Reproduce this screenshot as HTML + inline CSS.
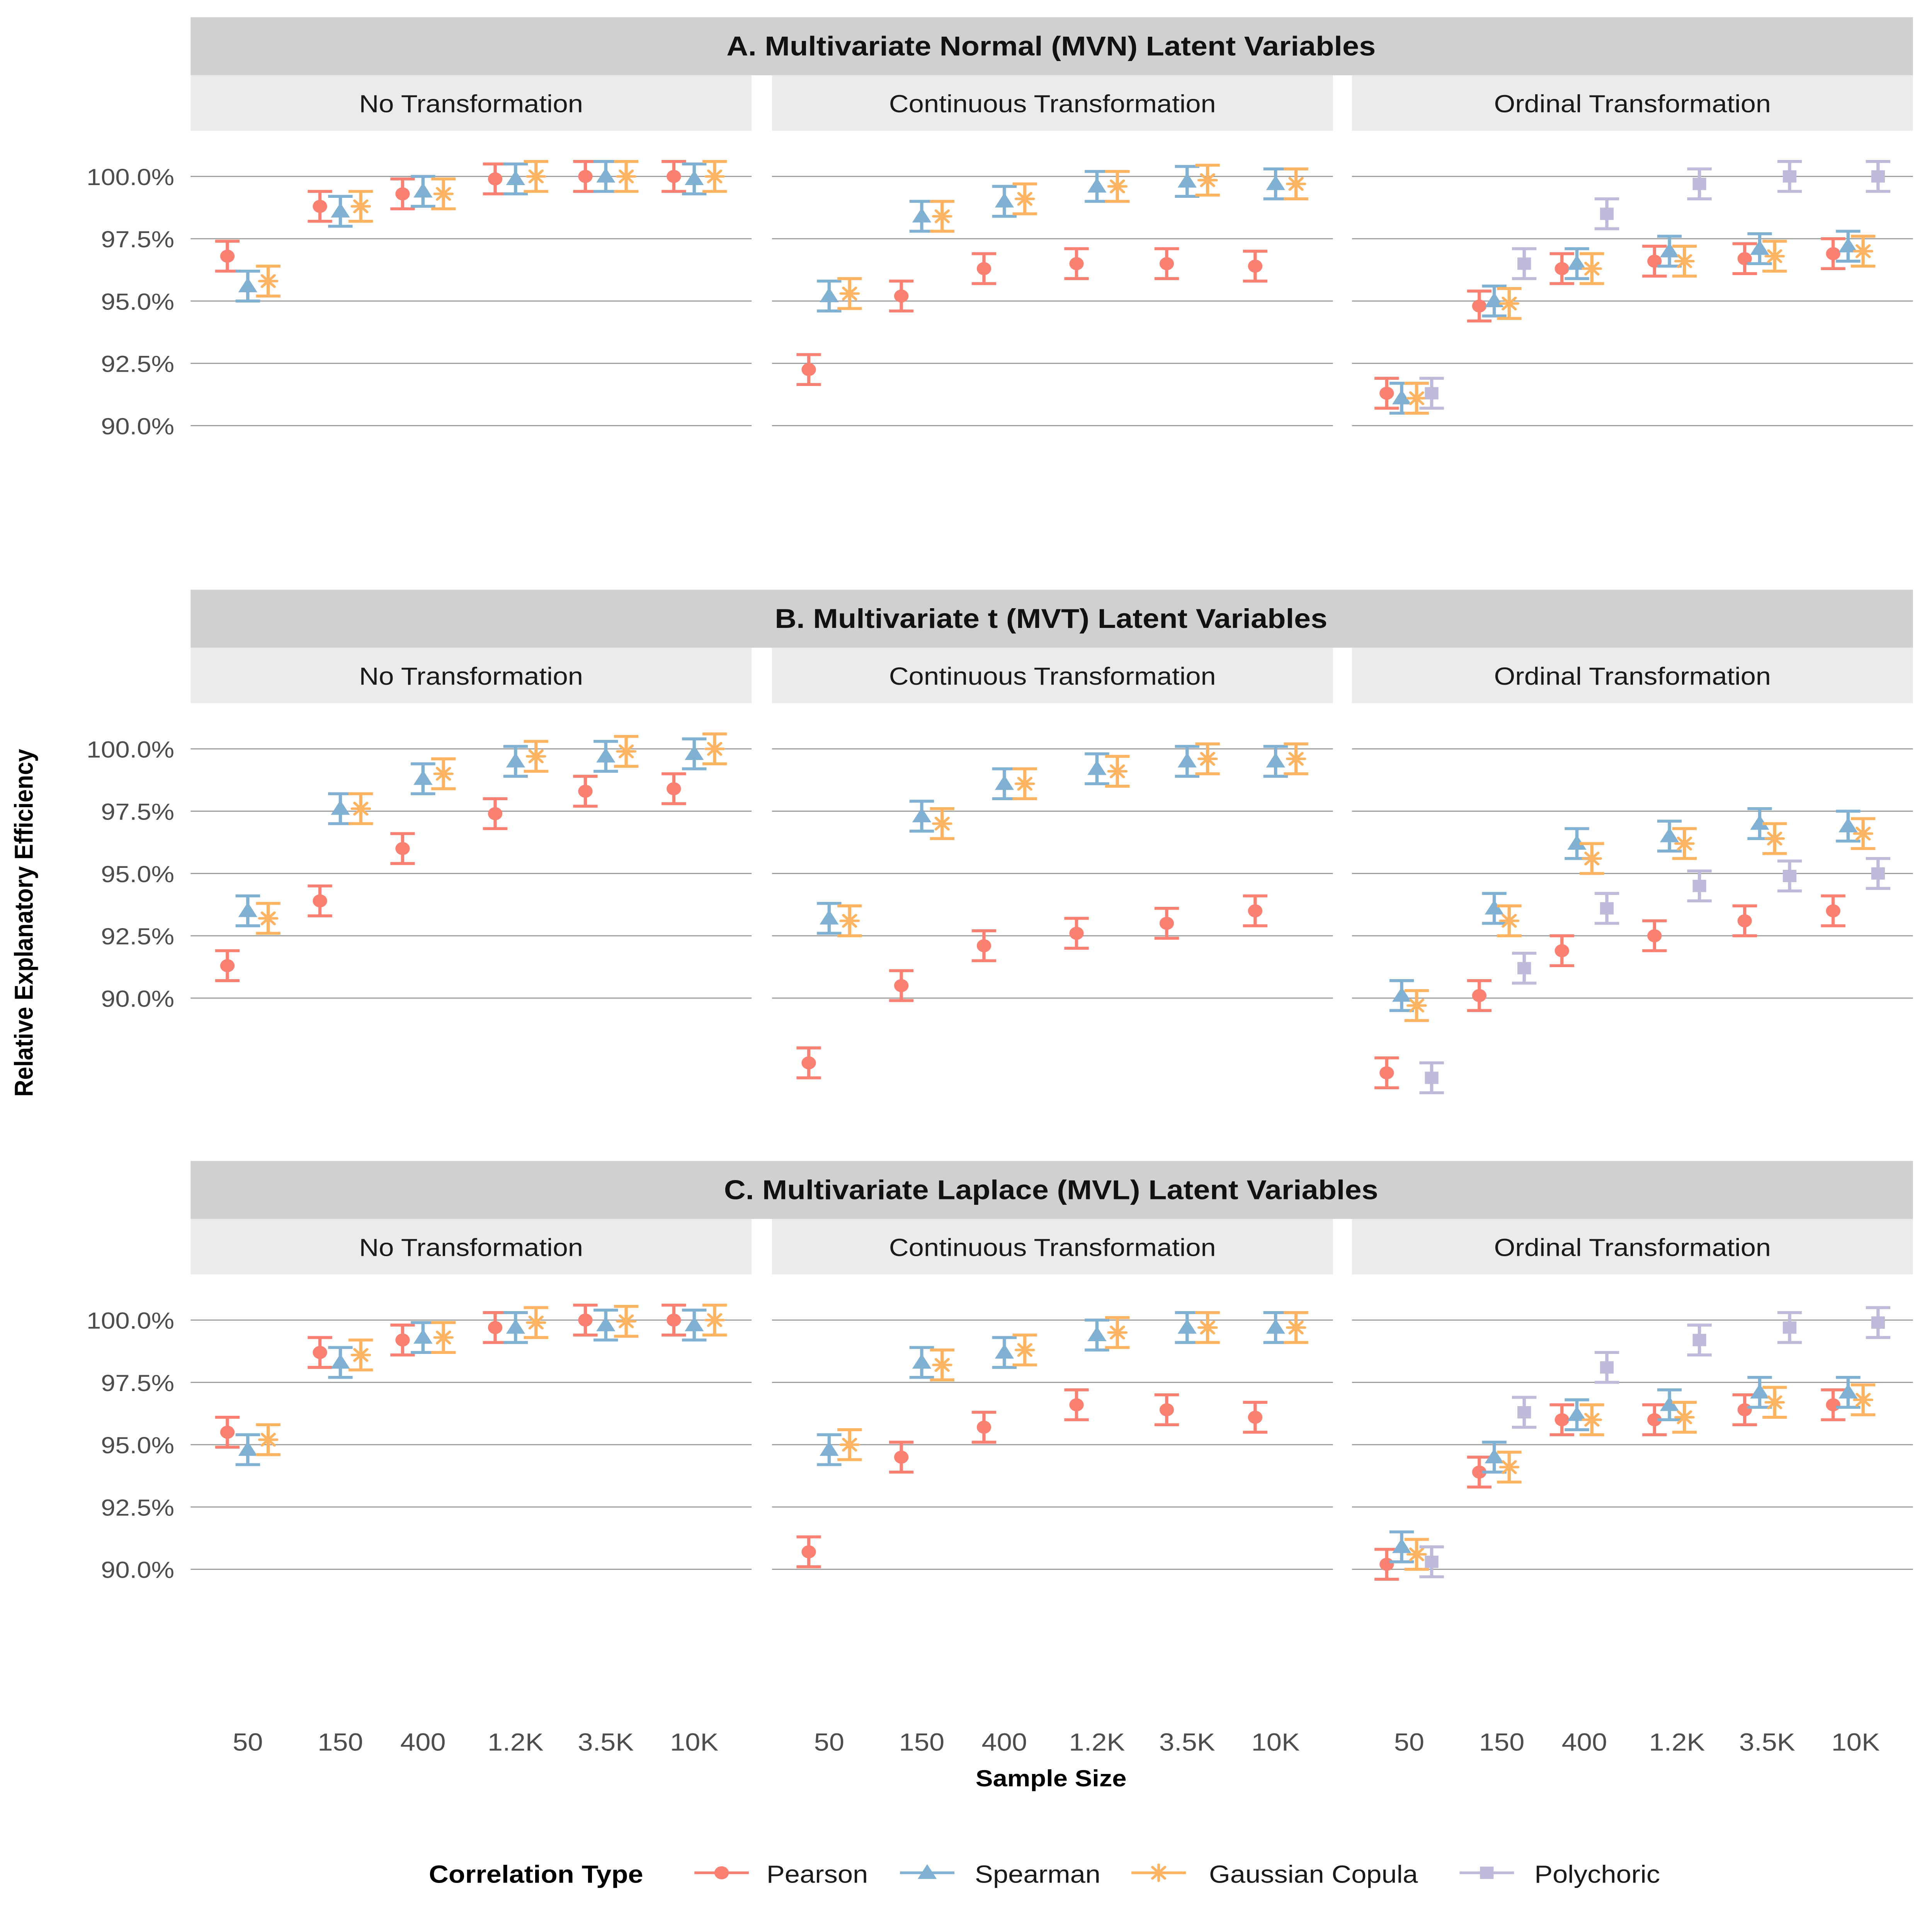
<!DOCTYPE html>
<html><head><meta charset="utf-8">
<style>
html,body{margin:0;padding:0;background:#fff;width:100%;height:100%;overflow:hidden;}
svg{display:block;position:absolute;left:0;top:0;width:100vw;height:100vh;font-family:"Liberation Sans","DejaVu Sans",sans-serif;}
</style></head>
<body>
<svg id="chart" xmlns="http://www.w3.org/2000/svg" viewBox="0 0 1419 1566" preserveAspectRatio="none">
<rect x="0" y="0" width="1419" height="1566" fill="#fff"/>
<g id="panels"></g>
<text x="24" y="748" transform="rotate(-90 24 748)" text-anchor="middle" font-size="19" font-weight="bold" fill="#000">Relative Explanatory Efficiency</text>
<text x="772" y="1448" text-anchor="middle" font-size="19" font-weight="bold" fill="#000">Sample Size</text>
<g id="legend">
<text x="315" y="1526" font-size="20" font-weight="bold" fill="#000">Correlation Type</text>
</g>
</svg>
<script>
const sampleSizes=[50,150,400,1200,3500,10000];
const xTickLabels=["50","150","400","1.2K","3.5K","10K"];
const yTicks=[90,92.5,95,97.5,100];
const yTickLabels=["90.0%","92.5%","95.0%","97.5%","100.0%"];
const seriesNames=["Pearson","Spearman","Gaussian Copula","Polychoric"];
const rowTitles=["A.  Multivariate Normal (MVN) Latent Variables","B.  Multivariate t (MVT) Latent Variables","C.  Multivariate Laplace (MVL) Latent Variables"];
const colTitles=["No Transformation","Continuous Transformation","Ordinal Transformation"];
const errHalf=0.6;
// Row A
const aNoP=[96.8,98.8,99.3,99.9,100,100];
const aNoS=[95.6,98.6,99.4,99.9,100,99.9];
const aNoG=[95.8,98.8,99.3,100,100,100];
const aCoP=[92.25,95.2,96.3,96.5,96.5,96.4];
const aCoS=[95.2,98.4,99.0,99.6,99.8,99.7];
const aCoG=[95.3,98.4,99.1,99.6,99.85,99.7];
const aOrP=[91.3,94.8,96.3,96.6,96.7,96.9];
const aOrS=[91.1,95.0,96.5,97.0,97.1,97.2];
const aOrG=[91.1,94.9,96.3,96.6,96.8,97.0];
const aOrY=[91.3,96.5,98.5,99.7,100,100];
// Row B
const bNoP=[91.3,93.9,96.0,97.4,98.3,98.4];
const bNoS=[93.5,97.6,98.8,99.5,99.7,99.8];
const bNoG=[93.2,97.6,99.0,99.7,99.9,100];
const bCoP=[87.4,90.5,92.1,92.6,93.0,93.5];
const bCoS=[93.2,97.3,98.6,99.2,99.5,99.5];
const bCoG=[93.1,97.0,98.6,99.1,99.6,99.6];
const bOrP=[87.0,90.1,91.9,92.5,93.1,93.5];
const bOrS=[90.1,93.6,96.2,96.5,97.0,96.9];
const bOrG=[89.7,93.1,95.6,96.2,96.4,96.6];
const bOrY=[86.8,91.2,93.6,94.5,94.9,95.0];
// Row C
const cNoP=[95.5,98.7,99.2,99.7,100,100];
const cNoS=[94.8,98.3,99.3,99.7,99.8,99.8];
const cNoG=[95.2,98.6,99.3,99.9,99.95,100];
const cCoP=[90.7,94.5,95.7,96.6,96.4,96.1];
const cCoS=[94.8,98.3,98.7,99.4,99.7,99.7];
const cCoG=[95.0,98.2,98.8,99.5,99.7,99.7];
const cOrP=[90.2,93.9,96.0,96.0,96.4,96.6];
const cOrS=[90.9,94.5,96.2,96.6,97.1,97.1];
const cOrG=[90.6,94.1,96.0,96.1,96.7,96.8];
const cOrY=[90.3,96.3,98.1,99.2,99.7,99.9];

const panelData=[
 [[aNoP,aNoS,aNoG],[aCoP,aCoS,aCoG],[aOrP,aOrS,aOrG,aOrY]],
 [[bNoP,bNoS,bNoG],[bCoP,bCoS,bCoG],[bOrP,bOrS,bOrG,bOrY]],
 [[cNoP,cNoS,cNoG],[cCoP,cCoS,cCoG],[cOrP,cOrS,cOrG,cOrY]]
];
const colors=["#FA8072","#80B1D3","#FDB462","#BEBADA"];
const NS="http://www.w3.org/2000/svg";
const colX=[140,567,993], colW=412;
const rowTop=[14,478,941];
const y100=[143,607,1070];
const pxPerPct=20.2;
const xFirstOff=42, pxPerDecade=142.5;
function xScale(col,n){return colX[col]+xFirstOff+(Math.log10(n)-Math.log10(50))*pxPerDecade;}
function yScale(row,v){return y100[row]+(100-v)*pxPerPct;}
function mk(tag,attrs,parent){const e=document.createElementNS(NS,tag);for(const k in attrs)e.setAttribute(k,attrs[k]);parent.appendChild(e);return e;}
function marker(g,s,x,y,c){
 let m;
 if(s===0){m=mk('circle',{cx:x,cy:y,r:5.3,fill:c},g);}
 else if(s===1){m=mk('polygon',{points:`${x},${y-7} ${x-7},${y+5} ${x+7},${y+5}`,fill:c},g);}
 else if(s===2){m=mk('path',{d:`M${x-6.5},${y}H${x+6.5}M${x},${y-6.5}V${y+6.5}M${x-4.6},${y-4.6}L${x+4.6},${y+4.6}M${x-4.6},${y+4.6}L${x+4.6},${y-4.6}`,stroke:c,'stroke-width':2,'stroke-linecap':'round',fill:'none'},g);}
 else {m=mk('rect',{x:x-5,y:y-5,width:10,height:10,fill:c},g);}
 return m;
}
const root=document.getElementById('panels');
for(let r=0;r<3;r++){
 const t0=rowTop[r];
 const strip=mk('rect',{x:140,y:t0,width:1265,height:47,fill:'#D0D0D0'},root);
 
 
 const st=mk('text',{x:772,y:t0+31,'text-anchor':'middle','font-size':22,'font-weight':'bold',fill:'#111'},root);
 st.textContent=rowTitles[r];
 
 
 for(let c=0;c<3;c++){
  const sub=mk('rect',{x:colX[c],y:t0+47,width:colW,height:45,fill:'#EBEBEB'},root);
  
  
  const subt=mk('text',{x:colX[c]+colW/2,y:t0+77,'text-anchor':'middle','font-size':20,fill:'#1a1a1a'},root);
  subt.textContent=colTitles[c];
  
  
  yTicks.forEach((v,i)=>{
   const gl=mk('line',{x1:colX[c],x2:colX[c]+colW,y1:yScale(r,v),y2:yScale(r,v),stroke:'#9a9a9a','stroke-width':0.9},root);
   
   
   if(c===0){
    const tl=mk('text',{x:128,y:yScale(r,v)+7,'text-anchor':'end','font-size':19,fill:'#4d4d4d'},root);
    tl.textContent=yTickLabels[i];
    
    
   }
  });
  const series=panelData[r][c];
  const ns=series.length;
  const sp=ns===3?15:11;
  series.forEach((vals,s)=>{
   const g=mk('g',{},root);
   
   
   vals.forEach((v,i)=>{
    const x=xScale(c,sampleSizes[i])+(s-(ns-1)/2)*sp;
    const yt=yScale(r,v+errHalf), yb=yScale(r,v-errHalf), y=yScale(r,v);
    const eb=mk('path',{d:`M${x-9},${yt}H${x+9}M${x},${yt}V${yb}M${x-9},${yb}H${x+9}`,stroke:colors[s],'stroke-width':2.4,fill:'none'},g);
    
    
    const m=marker(g,s,x,y,colors[s]);
    
    
   });
  });
  if(r===2){
   sampleSizes.forEach((n,i)=>{
    const xl=mk('text',{x:xScale(c,n),y:1419,'text-anchor':'middle','font-size':20,fill:'#4d4d4d'},root);
    xl.textContent=xTickLabels[i];
    
    
   });
  }
 }
}
const leg=document.getElementById('legend');
const legX=[530,681,851,1092], legTX=[563,716,888,1127];
seriesNames.forEach((nm,s)=>{
 const g=mk('g',{},leg);
 
 
 const ln=mk('line',{x1:legX[s]-20,x2:legX[s]+20,y1:1518,y2:1518,stroke:colors[s],'stroke-width':2.2},g);
 
 
 const mm=marker(g,s,legX[s],1518,colors[s]);
 
 
 const t=mk('text',{x:legTX[s],y:1526,'font-size':20,fill:'#1a1a1a'},g);
 t.textContent=nm;
 
 
});
</script>
</body></html>
